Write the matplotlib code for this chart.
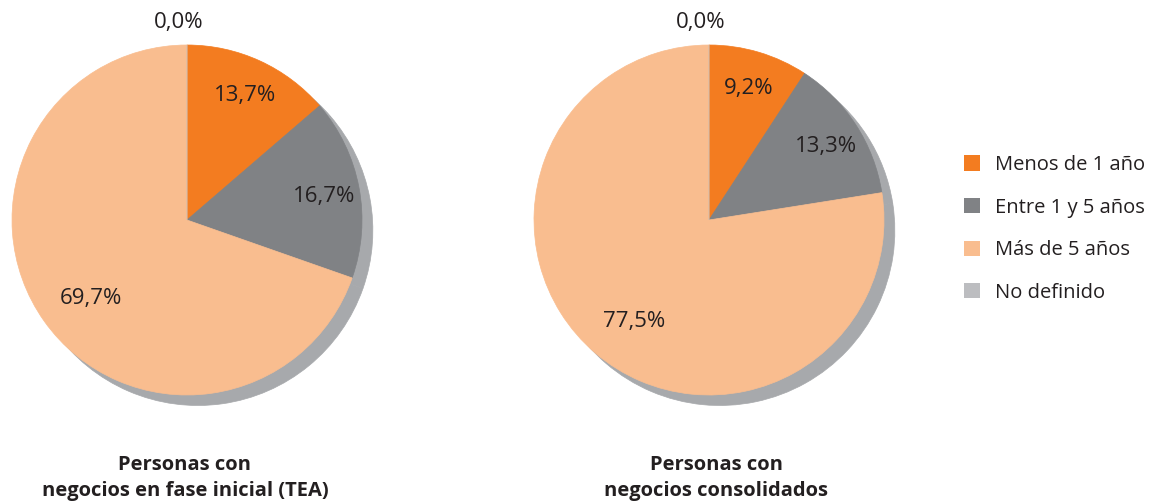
import matplotlib
matplotlib.use("Agg")
import numpy as np
import matplotlib.pyplot as plt
from matplotlib.patches import Patch

plt.rcParams['font.family'] = ['Open Sans', 'DejaVu Sans']

categories = ["Menos de 1 año", "Entre 1 y 5 años", "Más de 5 años", "No definido"]
tea_values = [13.7, 16.7, 69.7, 0.0]
consolidated_values = [9.2, 13.3, 77.5, 0.0]
chart_titles = ["Personas con\nnegocios en fase inicial (TEA)",
                "Personas con\nnegocios consolidados"]

colors = ["#F37C20", "#808285", "#F9BD8F", "#BCBDC0"]
shadow_color = "#A7A9AC"
text_color = "#231F20"

W, H = 1153, 501
fig = plt.figure(figsize=(W / 100, H / 100), dpi=100)

R = 175.0      # pie radius in pixels
HALF = 215.0   # half-size of each axes box in pixels
centers = [(187, 220), (709, 220)]
title_x = [185, 716]


def fmt(v):
    return f"{v:.1f}".replace(".", ",") + "%"


for (cx, cy), values, title, tx in zip(centers, [tea_values, consolidated_values],
                                       chart_titles, title_x):
    ax = fig.add_axes([(cx - HALF) / W, (H - cy - HALF) / H, 2 * HALF / W, 2 * HALF / H])
    lim = HALF / R
    # drop shadow: the same pie, offset down and to the right
    shadow, _ = ax.pie(values, startangle=90, counterclock=False,
                       colors=[shadow_color] * len(values),
                       center=(0.062, -0.06), radius=1.0)
    for s in shadow:
        s.set_edgecolor(shadow_color)
        s.set_linewidth(0.5)
    wedges, _, autotexts = ax.pie(
        values, startangle=90, counterclock=False, colors=colors, radius=1.0,
        autopct=lambda p: "", pctdistance=0.78)
    for w, c in zip(wedges, colors):
        w.set_edgecolor(c)
        w.set_linewidth(0.5)
    for w, at, v in zip(wedges, autotexts, values):
        ang = np.deg2rad((w.theta1 + w.theta2) / 2)
        if v == 0:
            d, dx, dy = 1.13, -0.05, 0.0
        elif v > 50:
            d, dx, dy = 0.72, 0.04, -0.03
        else:
            d, dx, dy = 0.80, 0.0, -0.015
        at.set_position((d * np.cos(ang) + dx, d * np.sin(ang) + dy))
        at.set_text(fmt(v))
        at.set_fontsize(16)
        at.set_color(text_color)
        at.set_ha("center")
        at.set_va("center")
    ax.set_xlim(-lim, lim)
    ax.set_ylim(-lim, lim)
    ax.set_aspect("auto")
    ax.axis("off")
    fig.text(tx / W, 1 - 478 / H, title, ha="center", va="center", fontsize=14.5,
             fontweight="bold", color=text_color, linespacing=1.35)

handles = [Patch(facecolor=c, edgecolor="none") for c in colors]
fig.legend(handles, categories, loc="upper left", bbox_to_anchor=(946 / W, 1 - 137 / H),
           frameon=False, fontsize=14.5, handlelength=0.8, handleheight=0.8,
           handletextpad=0.75, labelspacing=1.12, labelcolor=text_color)

fig.savefig("out.png", dpi=100, facecolor="white")
